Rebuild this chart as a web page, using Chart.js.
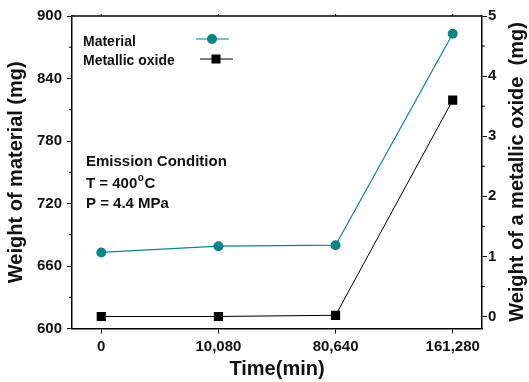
<!DOCTYPE html>
<html>
<head>
<meta charset="utf-8">
<script src="https://cdn.jsdelivr.net/npm/chart.js@4.4.1/dist/chart.umd.min.js"></script>
<style>
  html, body { margin: 0; padding: 0; background: #fff; }
  #wrap { width: 529px; height: 382px; }
</style>
</head>
<body>
<div id="wrap"><canvas id="weight-chart" width="529" height="382"></canvas></div>
<script>
// Data
const times = ['0', '10,080', '80,640', '161,280'];
const material = [673, 679, 680, 883];   // left axis (mg)
const oxide = [0, 0, 0.02, 3.6];         // right axis (mg)
const leftTicks = [600, 660, 720, 780, 840, 900];
const rightTicks = [0, 1, 2, 3, 4, 5];

const TEAL = '#0b8585';
const FONT = 'Liberation Sans, Arial, sans-serif';

// Draw the frame, minor ticks, legend, notes and the right title
const extras = {
  id: 'extras',
  afterDraw(chart) {
    const ctx = chart.ctx;
    const a = chart.chartArea;
    const yL = chart.scales.y;
    const yR = chart.scales.y1;
    const x = chart.scales.x;
    ctx.save();
    ctx.strokeStyle = '#000';
    ctx.lineWidth = 1.5;
    // top border
    ctx.beginPath();
    ctx.moveTo(a.left, a.top);
    ctx.lineTo(a.right, a.top);
    ctx.stroke();
    ctx.lineWidth = 1;
    // top small ticks
    times.forEach((t, i) => {
      const px = x.getPixelForValue(i);
      ctx.beginPath();
      ctx.moveTo(px, a.top);
      ctx.lineTo(px, a.top - 2);
      ctx.stroke();
    });
    // minor ticks left
    for (let v = 630; v < 900; v += 60) {
      const py = yL.getPixelForValue(v);
      ctx.beginPath();
      ctx.moveTo(a.left, py);
      ctx.lineTo(a.left - 3, py);
      ctx.stroke();
    }
    // minor ticks right
    for (let v = 0.5; v < 5; v += 1) {
      const py = yR.getPixelForValue(v);
      ctx.beginPath();
      ctx.moveTo(a.right, py);
      ctx.lineTo(a.right + 3, py);
      ctx.stroke();
    }

    // legend
    ctx.fillStyle = '#111';
    ctx.font = 'bold 14px ' + FONT;
    ctx.textBaseline = 'alphabetic';
    ctx.textAlign = 'left';
    ctx.fillText('Material', 83, 46);
    ctx.fillText('Metallic oxide', 83, 65);
    ctx.strokeStyle = TEAL;
    ctx.lineWidth = 1.2;
    ctx.beginPath();
    ctx.moveTo(196, 39); ctx.lineTo(229, 39);
    ctx.stroke();
    ctx.fillStyle = TEAL;
    ctx.beginPath();
    ctx.arc(212, 39, 5, 0, Math.PI * 2);
    ctx.fill();
    ctx.strokeStyle = '#000';
    ctx.lineWidth = 1;
    ctx.beginPath();
    ctx.moveTo(200, 59); ctx.lineTo(233, 59);
    ctx.stroke();
    ctx.fillStyle = '#000';
    ctx.fillRect(211.5, 54.5, 9, 9);

    // emission condition notes
    ctx.fillStyle = '#111';
    ctx.font = 'bold 15px ' + FONT;
    ctx.fillText('Emission Condition', 86, 166);
    const t1 = 'T = 400';
    ctx.fillText(t1, 86, 188);
    let w = ctx.measureText(t1).width;
    ctx.font = 'bold 10px ' + FONT;
    ctx.fillText('o', 86 + w + 0.5, 181);
    const w2 = ctx.measureText('o').width;
    ctx.font = 'bold 15px ' + FONT;
    ctx.fillText('C', 86 + w + w2 + 1, 188);
    ctx.fillText('P = 4.4 MPa', 86, 208);

    // right axis title, reading bottom to top
    ctx.save();
    ctx.translate(517, 172);
    ctx.rotate(-Math.PI / 2);
    ctx.font = 'bold 20px ' + FONT;
    ctx.textAlign = 'center';
    ctx.textBaseline = 'middle';
    ctx.fillText('Weight of a metallic oxide  (mg)', 0, 0);
    ctx.restore();
    ctx.restore();
  }
};

const ctx = document.getElementById('weight-chart').getContext('2d');
const weightChart = new Chart(ctx, {
  type: 'line',
  data: {
    datasets: [{
      label: 'Material',
      data: material.map((v, i) => ({ x: i, y: v })),
      yAxisID: 'y',
      borderColor: TEAL,
      backgroundColor: TEAL,
      borderWidth: 1.2,
      pointStyle: 'circle',
      pointRadius: 5,
      pointBorderWidth: 0,
      tension: 0
    }, {
      label: 'Metallic oxide',
      data: oxide.map((v, i) => ({ x: i, y: v })),
      yAxisID: 'y1',
      borderColor: '#000',
      backgroundColor: '#000',
      borderWidth: 1,
      pointStyle: 'rect',
      pointRadius: 6.5,
      pointBorderWidth: 0,
      tension: 0
    }]
  },
  options: {
    responsive: false,
    animation: false,
    layout: { padding: { top: 16, left: 0, right: 0, bottom: 0 } },
    plugins: {
      legend: { display: false },
      tooltip: { enabled: false }
    },
    scales: {
      x: {
        type: 'linear',
        min: -0.25,
        max: 3.25,
        afterBuildTicks: s => { s.ticks = times.map((t, i) => ({ value: i })); },
        afterFit: s => { s.height = 53.5; },
        ticks: {
          color: '#111',
          font: { family: FONT, size: 15, weight: 'bold' },
          padding: 4,
          maxRotation: 0,
          autoSkip: false,
          callback: v => times[v]
        },
        grid: { drawOnChartArea: false, tickLength: 5, tickColor: '#000', tickWidth: 1 },
        border: { color: '#000', width: 1.5 },
        title: {
          display: true,
          text: 'Time(min)',
          color: '#111',
          font: { family: FONT, size: 20, weight: 'bold' },
          padding: { top: 0, bottom: 1 }
        }
      },
      y: {
        position: 'left',
        min: 600,
        max: 900,
        afterBuildTicks: s => { s.ticks = leftTicks.map(v => ({ value: v })); },
        afterFit: s => { s.width = 72; },
        ticks: {
          color: '#111',
          font: { family: FONT, size: 15, weight: 'bold' },
          padding: 5
        },
        grid: { drawOnChartArea: false, tickLength: 5, tickColor: '#000', tickWidth: 1 },
        border: { color: '#000', width: 1.5 },
        title: {
          display: true,
          text: 'Weight of material (mg)',
          color: '#111',
          font: { family: FONT, size: 20, weight: 'bold' },
          padding: { top: 4, bottom: 0 }
        }
      },
      y1: {
        position: 'right',
        min: -0.2,
        max: 5,
        afterBuildTicks: s => { s.ticks = rightTicks.map(v => ({ value: v })); },
        afterFit: s => { s.width = 47; },
        ticks: {
          color: '#111',
          font: { family: FONT, size: 15, weight: 'bold' },
          padding: 1
        },
        grid: { drawOnChartArea: false, tickLength: 5, tickColor: '#000', tickWidth: 1 },
        border: { color: '#000', width: 1.5 }
      }
    }
  },
  plugins: [extras]
});
</script>
</body>
</html>
